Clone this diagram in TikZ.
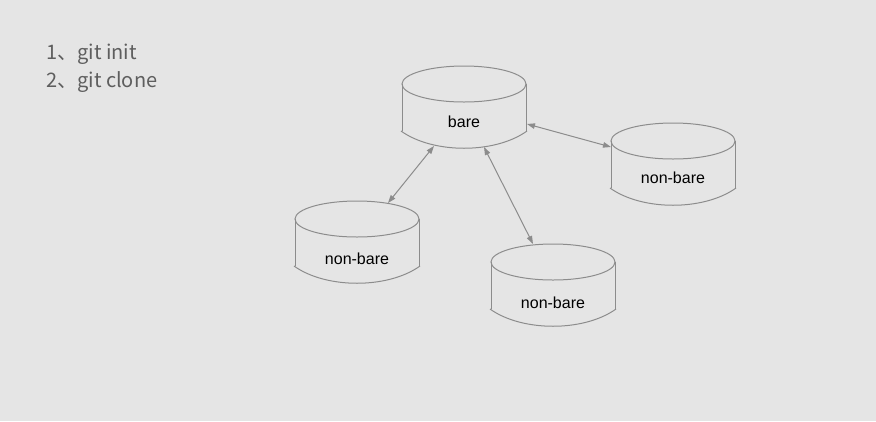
\documentclass[tikz,border=0pt]{standalone}
\usepackage{fontspec}
\setmainfont{Liberation Sans}
\newfontfamily\cjk{Noto Sans CJK JP}
\usetikzlibrary{arrows.meta}
\definecolor{bgc}{HTML}{E5E5E5}
\definecolor{linec}{HTML}{8C8C8C}
\definecolor{listc}{HTML}{5E5E5E}
\tikzset{
  cylline/.style={draw=linec, line width=1pt},
  conn/.style={draw=linec, line width=1pt, {Triangle[length=8pt,width=5.5pt]}-{Triangle[length=8pt,width=5.5pt]}},
  cyltext/.style={font=\fontsize{16}{19}\selectfont, text=black, inner sep=0pt},
  listtext/.style={font=\cjk\fontsize{20}{28}\selectfont, text=listc, inner sep=0pt, anchor=base west},
  cyl/.pic={
    \draw[cylline] (0,0) ellipse [x radius=62pt, y radius=18pt];
    \draw[cylline] (-62,0) -- (-62,47);
    \draw[cylline] (62,0) -- (62,47);
    \draw[cylline] (-63,47) .. controls (-31,70) and (31,70) .. (63,47);
  }
}
\begin{document}
\begin{tikzpicture}[x=1pt,y=-1pt]
\useasboundingbox[fill=bgc] (0,0) rectangle (876,421);
% list
\node[listtext] (l1) at (46,59) {1、git init};
\node[listtext] (l2) at (46,87) {2、git clone};
% cylinders
\pic (bare) at (464,84) {cyl};
\node[cyltext] (baret) at (464,122) {bare};
\pic (nbr) at (673,141) {cyl};
\node[cyltext] (nbrt) at (673,178) {non-bare};
\pic (nbl) at (357,219) {cyl};
\node[cyltext] (nblt) at (357,259) {non-bare};
\pic (nbb) at (553,262) {cyl};
\node[cyltext] (nbbt) at (553,303) {non-bare};
% connector ends
\coordinate (b1) at (434,146);
\coordinate (b2) at (484,147);
\coordinate (b3) at (527,124);
\coordinate (nl) at (388,203);
\coordinate (nb) at (533,244);
\coordinate (nr) at (611,147);
\draw[conn] (nl) -- (b1);
\draw[conn] (b2) -- (nb);
\draw[conn] (b3) -- (nr);
\end{tikzpicture}
\end{document}
